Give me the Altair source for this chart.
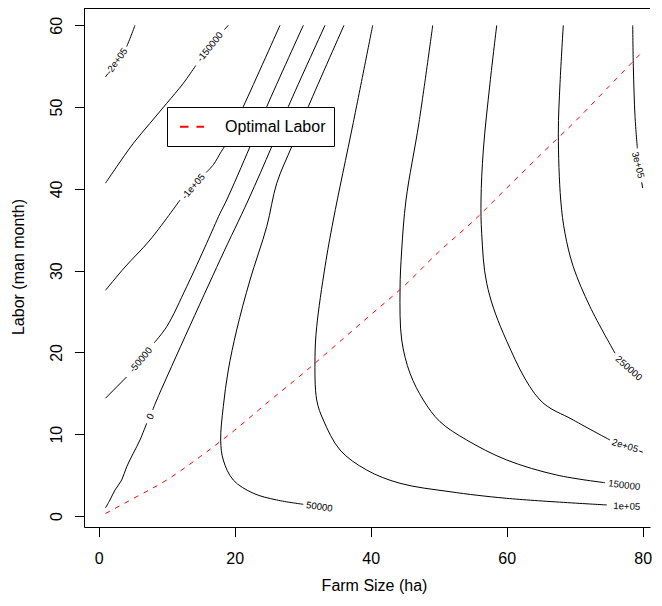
import altair as alt
import pandas as pd

FONT = "Liberation Sans"

# ---------------- axes ----------------
X_TICKS = [0, 20, 40, 60, 80]
Y_TICKS = [0, 10, 20, 30, 40, 50, 60]
X_DOMAIN = [-2.16, 81.07]
Y_DOMAIN = [-1.345, 62.12]
X_TITLE = "Farm Size (ha)"
Y_TITLE = "Labor (man month)"

# ---------------- contour lines (segments split where labels sit) ----------------
C_M200K = [
    ([1.0, 1.37], [53.7, 54.1]),
    ([4.12, 4.7, 5.34], [57.4, 58.6, 60.0]),
]
C_M150K = [
    ([1.0, 2.65, 5.09, 7.54, 10.0, 12.44, 14.16, 14.3],
     [40.7, 42.71, 45.57, 48.02, 50.46, 52.91, 54.94, 55.1]),
    ([18.5, 19.06], [59.49, 60.0]),
]
C_M100K = [
    ([1.0, 3.87, 7.54, 11.96], [27.6, 30.45, 33.75, 38.64]),
    ([15.8, 16.9, 17.9, 18.5, 21.26, 26.66], [42.0, 43.0, 44.4, 45.2, 50.05, 60.0]),
]
C_M50K = [
    ([1.0, 4.1], [14.4, 17.0]),
    ([8.13, 10.0, 12.94, 15.88, 17.84, 18.82, 22.25, 24.71, 30.09],
     [21.15, 23.15, 28.04, 33.35, 37.01, 38.64, 45.16, 50.05, 60.0]),
]
C_0 = [
    ([1.0, 1.66, 2.40, 3.38, 4.12, 5.09, 6.07, 7.06],
     [1.0, 1.96, 3.18, 4.40, 6.03, 7.67, 9.29, 11.34]),
    ([7.94, 8.53, 17.84, 22.0, 25.44, 27.88, 33.28],
     [12.96, 14.18, 31.30, 38.64, 45.16, 50.05, 60.0]),
]
C_50K = [
    ([36.07, 30.82, 28.38, 26.18, 24.71, 22.25, 20.29, 19.06, 18.32, 17.94, 18.32, 19.79, 22.74, 26.18, 30.09],
     [60.0, 50.05, 45.16, 40.68, 35.38, 28.86, 22.74, 17.85, 13.37, 9.29, 6.85, 4.40, 2.78, 1.96, 1.43]),
]
C_100K = [
    ([40.29, 37.44, 34.5, 33.28, 32.06, 31.81, 32.06, 33.03, 35.49, 39.41, 44.31, 51.66, 60.0, 74.71],
     [60.0, 48.12, 36.19, 30.48, 23.15, 19.48, 14.18, 11.74, 8.07, 5.62, 4.0, 2.97, 2.16, 1.35]),
]
C_150K = [
    ([49.12, 47.1, 45.19, 44.56, 44.31, 44.56, 45.78, 47.74, 50.19, 54.12, 60.0, 67.35, 74.46],
     [60.0, 48.12, 38.64, 32.53, 27.64, 21.52, 17.45, 14.18, 11.53, 9.29, 6.85, 5.01, 4.07]),
]
C_200K = [
    ([58.53, 57.54, 56.56, 56.22, 56.32, 57.06, 59.5, 64.9, 69.79, 75.19],
     [60.0, 52.91, 44.75, 38.64, 34.57, 28.45, 22.34, 14.18, 11.74, 9.29]),
    ([79.5, 80.0], [7.95, 7.8]),
]
C_250K = [
    ([68.32, 67.84, 67.59, 67.94, 68.57, 69.79, 72.25, 75.93],
     [60.0, 52.91, 46.8, 38.64, 34.57, 30.48, 25.59, 19.9]),
]
C_300K = [
    ([78.53, 78.62, 78.87, 79.21], [60.0, 54.94, 48.83, 44.96]),
    ([79.85, 80.0], [40.8, 40.1]),
]

CONTOURS = [C_M200K, C_M150K, C_M100K, C_M50K, C_0, C_50K,
            C_100K, C_150K, C_200K, C_250K, C_300K]

# ---------------- contour labels ----------------
LABEL_TEXT = ["-2e+05", "-150000", "-1e+05", "-50000", "0", "50000",
              "1e+05", "150000", "2e+05", "250000", "3e+05"]
LABEL_X = [2.65, 16.37, 13.91, 6.19, 7.62, 32.44, 77.65, 77.28, 77.4, 77.94, 79.31]
LABEL_Y = [55.6, 57.35, 40.27, 19.08, 12.17, 1.10, 1.16, 3.75, 8.58, 18.06, 42.92]
LABEL_ANGLE = [306, 309, 311, 310, 295, 8, 2, 7, 17, 42, 76]

# ---------------- optimal labor curve ----------------
OPT_FARM = [1, 5, 10, 15, 20, 25, 30, 35, 40, 45, 50, 55, 60, 65, 70, 75, 80]
OPT_LABOR = [0.3, 2.1, 4.4, 7.3, 10.5, 14.0, 17.4, 21.0, 24.6, 28.2, 32.3,
             36.0, 40.1, 44.2, 48.2, 52.5, 56.8]

LEGEND_LABEL = ["Optimal Labor"]

# ---------------- build tables ----------------
rows = []
for ci, contour in enumerate(CONTOURS):
    for si, (xs, ys) in enumerate(contour):
        for k, (xv, yv) in enumerate(zip(xs, ys)):
            rows.append({"x": xv, "y": yv, "seg": f"{ci}_{si}", "i": k})
contour_df = pd.DataFrame(rows)

label_df = pd.DataFrame({"x": LABEL_X, "y": LABEL_Y, "text": LABEL_TEXT,
                         "angle": LABEL_ANGLE})
opt_df = pd.DataFrame({"x": OPT_FARM, "y": OPT_LABOR, "i": list(range(len(OPT_FARM)))})
legend_df = pd.DataFrame({"label": LEGEND_LABEL})

PLOT_W = 566

x_enc = alt.X(
    "x:Q",
    scale=alt.Scale(domain=X_DOMAIN, nice=False, zero=False),
    axis=alt.Axis(values=X_TICKS, title=X_TITLE, grid=False, tickSize=9.6,
                  labelPadding=26.9, labelBaseline="alphabetic", labelAlign="center",
                  labelFontSize=16, labelFont=FONT, labelColor="black",
                  titleFontSize=16, titleFont=FONT, titleFontWeight="normal",
                  titleColor="black", titleX=290, titleY=63,
                  titleBaseline="alphabetic", titleAlign="center",
                  domainColor="black", tickColor="black", labelFlush=False,
                  labelOverlap=False, format="d"),
)
y_enc = alt.Y(
    "y:Q",
    scale=alt.Scale(domain=Y_DOMAIN, nice=False, zero=False),
    axis=alt.Axis(values=Y_TICKS, title=Y_TITLE, grid=False, tickSize=9.6,
                  labelPadding=12.7, labelAngle=270, labelAlign="center",
                  labelBaseline="alphabetic", labelFontSize=16, labelFont=FONT,
                  labelColor="black", titleFontSize=16, titleFont=FONT,
                  titleFontWeight="normal", titleColor="black", titleAngle=270,
                  titleX=-60.5, titleY=258.5, titleBaseline="alphabetic",
                  titleAlign="center", domainColor="black", tickColor="black",
                  labelFlush=False, labelOverlap=False, format="d"),
)

contours = alt.Chart(contour_df).mark_line(
    color="black", strokeWidth=1, interpolate="catmull-rom"
).encode(x=x_enc, y=y_enc, detail="seg:N", order="i:Q")

opt_line = alt.Chart(opt_df).mark_line(
    color="red", strokeWidth=1, strokeDash=[5, 5.8], interpolate="monotone"
).encode(x="x:Q", y="y:Q", order="i:Q")

labels = alt.Chart(label_df).mark_text(
    font=FONT, fontSize=9.6, color="black", align="center", baseline="middle"
).encode(
    x="x:Q", y="y:Q", text="text:N", angle=alt.Angle("angle:Q", scale=None)
)

legend_box = alt.Chart(legend_df).mark_rect(
    fill="white", stroke="black", strokeWidth=1
).encode(
    x=alt.value(83.5), x2=alt.value(250.5), y=alt.value(99.5), y2=alt.value(138.5)
)
legend_line = alt.Chart(legend_df).mark_rule(
    color="red", strokeWidth=2, strokeDash=[8.5, 8]
).encode(x=alt.value(96), x2=alt.value(120), y=alt.value(118.7))
legend_text = alt.Chart(legend_df).mark_text(
    font=FONT, fontSize=16, color="black", align="left", baseline="alphabetic"
).encode(x=alt.value(141), y=alt.value(124.3), text="label:N")

top_border = alt.Chart(legend_df).mark_rule(color="black", strokeWidth=1).encode(
    x=alt.value(0), x2=alt.value(PLOT_W), y=alt.value(0.5)
)

chart = alt.layer(
    contours, opt_line, labels, legend_box, legend_line, legend_text, top_border
).properties(
    width=PLOT_W, height=519,
    autosize=alt.AutoSizeParams(type="none"),
    padding={"left": 76, "top": 0, "right": 2, "bottom": 67},
).configure_view(stroke=None)

chart.save("out.html", embed_options={"renderer": "svg", "actions": False})
